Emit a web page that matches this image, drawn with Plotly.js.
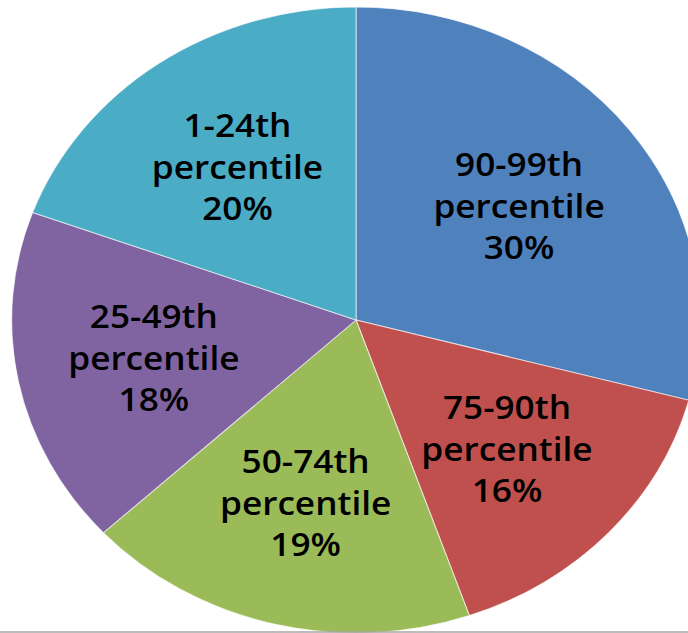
<!DOCTYPE html>
<html>
<head>
<meta charset="utf-8">
<script src="https://cdn.plot.ly/plotly-3.0.1.min.js"></script>
<style>
  html, body { margin: 0; padding: 0; width: 688px; height: 633px; overflow: hidden; background: #fff; }
  #wrap { width: 688px; height: 633px; overflow: hidden; position: relative; }
  #chart { width: 700px; height: 633px; transform: scaleX(1.1); transform-origin: 0 0; position: absolute; left: 0; top: 0; }
</style>
</head>
<body>
<div id="wrap"><div id="chart"></div></div>
<script>
// Data (clockwise from 12 o'clock)
const categories = ["90-99th percentile", "75-90th percentile", "50-74th percentile", "25-49th percentile", "1-24th percentile"];
const shares = [30, 16, 19, 18, 20];
const colors = ["#4F81BD", "#C0504D", "#9BBB59", "#8064A2", "#4BACC6"];

const W = 700, H = 633;
const cx = 356 / 1.1, cy = 320, R = 313;
const labelRadius = 0.6 * R;

const trace = {
  type: "pie",
  labels: categories,
  values: shares,
  textinfo: "none",
  sort: false,
  direction: "clockwise",
  rotation: 0,
  marker: { colors: colors, line: { color: "rgba(255,255,255,0.6)", width: 1 } },
  hoverinfo: "skip",
  showlegend: false,
  domain: { x: [(cx - R) / W, (cx + R) / W], y: [(H - (cy + R)) / H, (H - (cy - R)) / H] }
};

// label positions derived from the slice mid-angles
const total = shares.reduce((a, b) => a + b, 0);
let acc = 0;
const annotations = categories.map((c, i) => {
  const mid = (acc + shares[i] / 2) / total * 2 * Math.PI;
  acc += shares[i];
  const px = cx + labelRadius * Math.sin(mid);
  const py = cy - labelRadius * Math.cos(mid);
  return {
    xref: "paper", yref: "paper",
    x: px / W, y: 1 - py / H,
    xanchor: "center", yanchor: "middle",
    showarrow: false,
    text: c.replace(" ", "<br>") + "<br>" + shares[i] + "%",
    font: { family: "Open Sans", size: 32, color: "#000", weight: 600 },
    align: "center"
  };
});

const layout = {
  width: W, height: H,
  margin: { l: 0, r: 0, t: 0, b: 0, pad: 0 },
  paper_bgcolor: "#fff",
  showlegend: false,
  annotations: annotations,
  shapes: [{ type: "line", xref: "paper", yref: "paper", x0: 0, x1: 1, y0: 0.0015, y1: 0.0015, line: { color: "#a6a6a6", width: 1.5 } }]
};

Plotly.newPlot("chart", [trace], layout, { displayModeBar: false, staticPlot: true });
</script>
</body>
</html>
